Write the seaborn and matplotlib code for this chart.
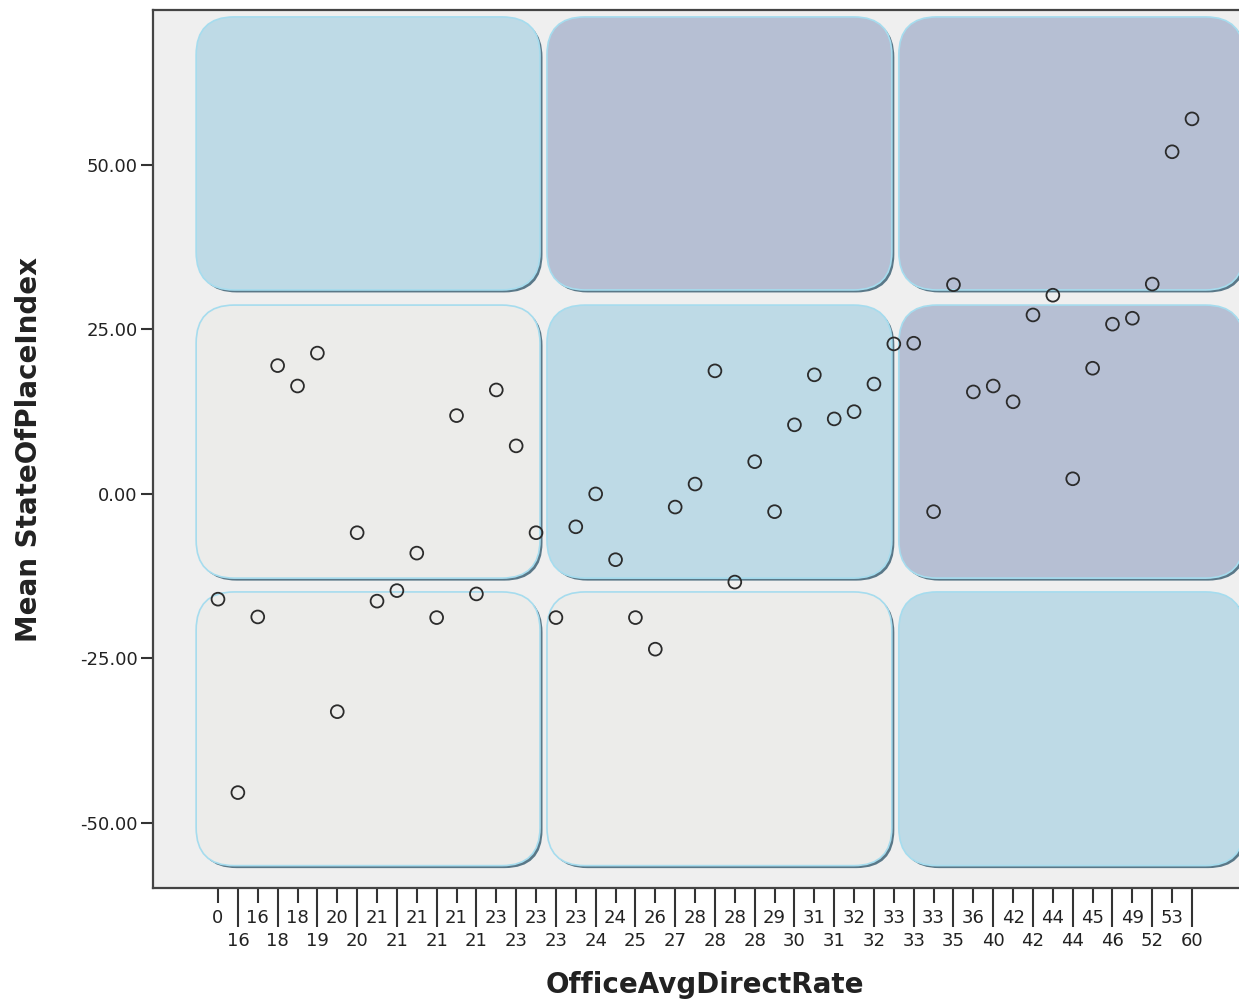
import numpy as np
import pandas as pd
import matplotlib
matplotlib.use("Agg")
import matplotlib.pyplot as plt
import seaborn as sns
from matplotlib.patches import FancyBboxPatch

# 50 rate categories (sorted), labels as printed on the axis
rate_labels = ["0", "16", "16", "18", "18", "19", "20", "20", "21", "21",
               "21", "21", "21", "21", "23", "23", "23", "23", "23", "24",
               "24", "25", "26", "27", "28", "28", "28", "28", "29", "30",
               "31", "31", "32", "32", "33", "33", "33", "35", "36", "40",
               "42", "42", "44", "44", "45", "46", "49", "52", "53", "60"]

# mean StateOfPlaceIndex for each category
mean_index = [-16.0, -45.4, -18.7, 19.5, 16.4, 21.4, -33.1, -5.9, -16.3, -14.7,
              -9.0, -18.8, 11.9, -15.2, 15.8, 7.3, -5.9, -18.8, -5.0, 0.0,
              -10.0, -18.8, -23.6, -2.0, 1.5, 18.7, -13.4, 4.9, -2.7, 10.5,
              18.1, 11.4, 12.5, 16.7, 22.8, 22.9, -2.7, 31.8, 15.5, 16.4,
              14.0, 27.2, 30.2, 2.3, 19.1, 25.8, 26.7, 31.9, 52.0, 57.0]

y_ticks = [-50, -25, 0, 25, 50]

# background panel grid (rows top->bottom, cols left->right)
panel_colors = [["#bedae6", "#b6bfd3", "#b6bfd3"],
                ["#ececea", "#bedae6", "#b6bfd3"],
                ["#ececea", "#ececea", "#bedae6"]]
col_bounds = [(-1.1, 16.2), (16.55, 33.9), (34.25, 51.6)]
row_bounds = [(31.0, 72.5), (-12.8, 28.7), (-56.5, -14.9)]

df = pd.DataFrame({"pos": np.arange(len(rate_labels)), "value": mean_index})

sns.set_style("white")
plt.rcParams['font.family'] = ['DejaVu Sans']

W, H = 1239, 1006
fig = plt.figure(figsize=(W / 100, H / 100), dpi=100)
ax_px = (153, 118, 1104, 878)
ax = fig.add_axes([ax_px[0] / W, ax_px[1] / H, ax_px[2] / W, ax_px[3] / H])
ax.set_facecolor("#efefef")

xlim = (-3.27, 52.27)
ylim = (-59.9, 73.55)
ax.set_xlim(*xlim)
ax.set_ylim(*ylim)

# pixels per data unit, used to get round corners that look circular
px_x = ax_px[2] / (xlim[1] - xlim[0])
px_y = ax_px[3] / (ylim[1] - ylim[0])
aspect = px_x / px_y
r = 38 / px_x

for ri, (y0, y1) in enumerate(row_bounds):
    for ci, (x0, x1) in enumerate(col_bounds):
        # dark shadow on the lower/right side
        shadow = FancyBboxPatch((x0 + 2.5 / px_x, y0 - 2.5 / px_y), x1 - x0, y1 - y0,
                                boxstyle=f"round,pad=0,rounding_size={r}",
                                mutation_aspect=aspect, facecolor="#5a7888",
                                edgecolor="none", zorder=0)
        ax.add_patch(shadow)
        panel = FancyBboxPatch((x0, y0), x1 - x0, y1 - y0,
                               boxstyle=f"round,pad=0,rounding_size={r}",
                               mutation_aspect=aspect, facecolor=panel_colors[ri][ci],
                               edgecolor="#a6dcee", linewidth=1.2, zorder=1)
        ax.add_patch(panel)

sns.scatterplot(data=df, x="pos", y="value", ax=ax, s=85, marker="o",
                facecolor="none", edgecolor="#2b2b2b", linewidth=1.3, zorder=3)

ax.set_xlim(*xlim)
ax.set_ylim(*ylim)

# staggered category labels: even -> upper row, odd -> lower row
ax.set_xticks(np.arange(0, 50, 2))
ax.set_xticklabels(rate_labels[0::2])
ax.set_xticks(np.arange(1, 50, 2), minor=True)
ax.set_xticklabels(rate_labels[1::2], minor=True)
ax.tick_params(axis="x", which="major", bottom=True, length=11, width=1.5, pad=4,
               labelsize=13, color="#333333", labelcolor="#222222")
ax.tick_params(axis="x", which="minor", bottom=True, length=28, width=1.5, pad=4,
               labelsize=13, color="#333333", labelcolor="#222222")

ax.set_yticks(y_ticks)
ax.set_yticklabels([f"{v:.2f}" for v in y_ticks])
ax.tick_params(axis="y", which="major", left=True, length=9, width=1.5, pad=2,
               labelsize=13, color="#333333", labelcolor="#222222")

for side in ["left", "bottom", "top", "right"]:
    ax.spines[side].set_color("#444444")
    ax.spines[side].set_linewidth(1.6)

ax.set_xlabel("OfficeAvgDirectRate", fontsize=20, fontweight="bold", color="#222222")
ax.set_ylabel("Mean StateOfPlaceIndex", fontsize=20, fontweight="bold", color="#222222")
ax.xaxis.set_label_coords(0.5, -0.095)
ax.yaxis.set_label_coords(-0.1, 0.5)

fig.savefig("out.png", dpi=100)
